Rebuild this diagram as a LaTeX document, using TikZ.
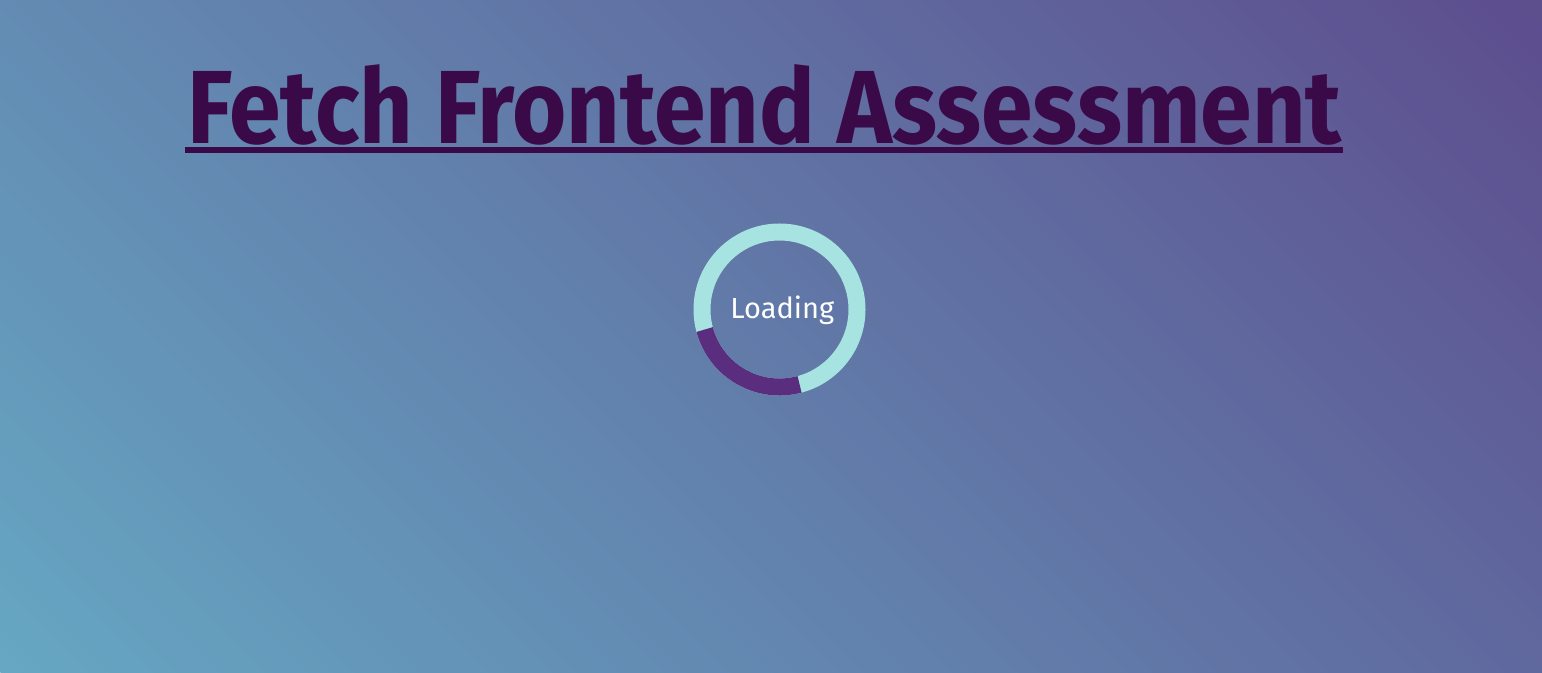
\documentclass[tikz,border=0pt]{standalone}
\usepackage{fontspec}
\setmainfont{Fira Sans}
\definecolor{bgBL}{HTML}{66A7C3}
\definecolor{bgTR}{HTML}{5D4D8E}
\definecolor{titlecol}{HTML}{3A0A48}
\definecolor{ringlight}{HTML}{A7E3E0}
\definecolor{ringdark}{HTML}{5B2D7F}
\begin{document}
\begin{tikzpicture}[x=1pt, y=1pt, line join=round,
  titletext/.style={text=titlecol, font=\fontsize{104}{110}\selectfont\bfseries, inner sep=0pt},
  loadtext/.style={text=white, font=\fontsize{29}{32}\selectfont, inner sep=0pt},
  ring/.style={line width=17pt}]
\useasboundingbox (0,0) rectangle (1542,672);
% background, 45 degree gradient
\begin{scope}
\clip (0,0) rectangle (1542,672);
\begin{scope}[rotate=45]
\foreach \i [evaluate=\i as \p using \i+0.5] in {0,...,99}
\fill[bgTR!\p!bgBL] ({\i*15.655},-1200) rectangle ({(\i+1)*15.655+1},600);
\end{scope}
\end{scope}
% title
\node[titletext, anchor=base] (title) at (764.5,528) {\scalebox{0.895}[1]{Fetch Frontend Assessment}};
\draw[titlecol, line width=6pt] (185,522) -- (1343,522);
% spinner
\coordinate (c) at (779.5,362.5);
\draw[ring, ringlight] (c) circle (77.5);
\draw[ring, ringdark] ([shift={(195:77.5)}]c) arc (195:285:77.5);
\node[loadtext, anchor=base] (loading) at (782.3,353) {Loading};
\end{tikzpicture}
\end{document}
